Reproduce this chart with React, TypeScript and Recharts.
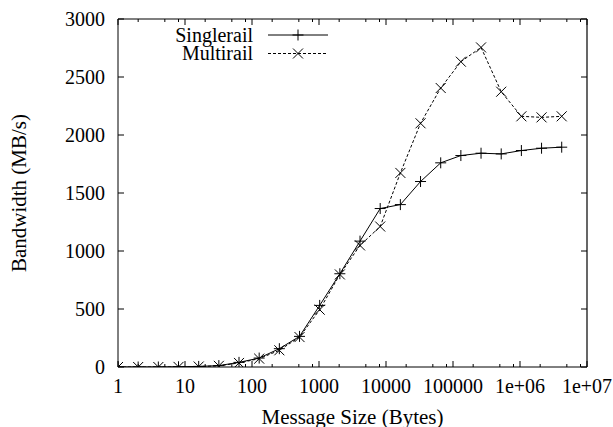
import React from 'react';
import { LineChart, Line, XAxis, YAxis, Legend, ReferenceLine } from 'recharts';

const messageSizes = [1, 2, 4, 8, 16, 32, 64, 128, 256, 512, 1024, 2048, 4096, 8192, 16384, 32768, 65536, 131072, 262144, 524288, 1048576, 2097152, 4194304];
const singlerail = [0, 0, 0, 2, 5, 12, 40, 77, 158, 264, 531, 804, 1085, 1366, 1400, 1599, 1760, 1823, 1843, 1837, 1866, 1886, 1895];
const multirail = [0, 0, 0, 1, 4, 10, 35, 72, 144, 258, 494, 798, 1048, 1211, 1673, 2101, 2405, 2632, 2755, 2373, 2161, 2152, 2161];

const xMajorTicks = [1, 10, 100, 1000, 10000, 100000, 1000000, 10000000];
const xMajorLabels = ['1', '10', '100', '1000', '10000', '100000', '1e+06', '1e+07'];
const xMinorTicks = [2, 5, 8, 20, 50, 80, 200, 500, 800, 2000, 5000, 8000, 20000, 50000, 80000, 200000, 500000, 800000, 2000000, 5000000, 8000000];
const yTicks = [0, 500, 1000, 1500, 2000, 2500, 3000];
const xDomain = [1, 10000000];
const yDomain = [0, 3000];

const seriesNames = ['Singlerail', 'Multirail'];
const xTitle = 'Message Size (Bytes)';
const yTitle = 'Bandwidth (MB/s)';

const data = messageSizes.map((s, i) => ({ size: s, Singlerail: singlerail[i], Multirail: multirail[i] }));
const allXTicks = [...xMajorTicks, ...xMinorTicks].sort((a, b) => a - b);

const FONT = 'Liberation Serif';
const FS = 20;

const W = 613;
const H = 427;
const MARGIN = { top: 19, right: 26, bottom: 0, left: 0 };
const PLOT_TOP = MARGIN.top;
const PLOT_RIGHT = W - MARGIN.right;

const BottomTick = (props: any) => {
  const { x, y, payload } = props;
  const idx = xMajorTicks.indexOf(payload.value);
  const major = idx >= 0;
  const len = major ? 6 : 3;
  return (
    <g>
      <line x1={x} x2={x} y1={y} y2={y - len} stroke="#000" strokeWidth={1} />
      <line x1={x} x2={x} y1={PLOT_TOP} y2={PLOT_TOP + len} stroke="#000" strokeWidth={1} />
      {major && (
        <text x={x} y={y + 26} textAnchor="middle" fontFamily={FONT} fontSize={FS} fill="#000">
          {xMajorLabels[idx]}
        </text>
      )}
    </g>
  );
};

const LeftTick = (props: any) => {
  const { x, y, payload } = props;
  return (
    <g>
      <line x1={x} x2={x + 6} y1={y} y2={y} stroke="#000" strokeWidth={1} />
      <line x1={PLOT_RIGHT} x2={PLOT_RIGHT - 6} y1={y} y2={y} stroke="#000" strokeWidth={1} />
      <text x={x - 13} y={y} dy="0.34em" textAnchor="end" fontFamily={FONT} fontSize={FS} fill="#000">
        {payload.value}
      </text>
    </g>
  );
};

const PlusDot = (props: any) => {
  const { cx, cy, index } = props;
  if (cx == null || cy == null) return <g key={`p${index}`} />;
  const r = 5.5;
  return (
    <g key={`p${index}`}>
      <line x1={cx - r} x2={cx + r} y1={cy} y2={cy} stroke="#000" strokeWidth={1} />
      <line x1={cx} x2={cx} y1={cy - r} y2={cy + r} stroke="#000" strokeWidth={1} />
    </g>
  );
};

const CrossDot = (props: any) => {
  const { cx, cy, index } = props;
  if (cx == null || cy == null) return <g key={`x${index}`} />;
  const r = 5;
  return (
    <g key={`x${index}`}>
      <line x1={cx - r} x2={cx + r} y1={cy - r} y2={cy + r} stroke="#000" strokeWidth={1} />
      <line x1={cx - r} x2={cx + r} y1={cy + r} y2={cy - r} stroke="#000" strokeWidth={1} />
    </g>
  );
};

const LegendContent = () => (
  <svg width={340} height={70} style={{ display: 'block' }}>
    {seriesNames.map((name, i) => {
      const cy = 35 + i * 18.5;
      return (
        <g key={name}>
          <text x={253} y={cy} dy="0.34em" textAnchor="end" fontFamily={FONT} fontSize={FS} fill="#000">
            {name}
          </text>
          <line x1={268} x2={328} y1={cy} y2={cy} stroke="#000" strokeWidth={1} strokeDasharray={i === 1 ? '3 2' : undefined} />
          {i === 0 ? <PlusDot cx={298} cy={cy} index={0} /> : <CrossDot cx={298} cy={cy} index={1} />}
        </g>
      );
    })}
  </svg>
);

const YTitle = (props: any) => {
  const vb = props.viewBox || {};
  const x = (vb.x ?? 0) + 26;
  const y = (vb.y ?? 0) + (vb.height ?? 0) / 2;
  return (
    <text x={x} y={y} transform={`rotate(-90, ${x}, ${y})`} textAnchor="middle" fontFamily={FONT} fontSize={21} fill="#000">
      {yTitle}
    </text>
  );
};

const XTitle = (props: any) => {
  const vb = props.viewBox || {};
  const x = (vb.x ?? 0) + (vb.width ?? 0) / 2;
  const y = (vb.y ?? 0) + 57;
  return (
    <text x={x} y={y} textAnchor="middle" fontFamily={FONT} fontSize={21} fill="#000">
      {xTitle}
    </text>
  );
};

export default function App() {
  return (
    <div style={{ position: 'absolute', left: 0, top: 0, background: '#fff' }}>
      <LineChart width={W} height={H} data={data} margin={MARGIN}>
        <XAxis
          dataKey="size"
          type="number"
          scale="log"
          domain={xDomain}
          allowDataOverflow
          ticks={allXTicks}
          interval={0}
          tickSize={0}
          tickMargin={0}
          tick={<BottomTick />}
          height={60}
          axisLine={{ stroke: '#000', strokeWidth: 1 }}
          label={<XTitle />}
        />
        <YAxis
          type="number"
          domain={yDomain}
          ticks={yTicks}
          interval={0}
          allowDataOverflow
          tickSize={0}
          tickMargin={0}
          tick={<LeftTick />}
          width={118}
          axisLine={{ stroke: '#000', strokeWidth: 1 }}
          label={<YTitle />}
        />
        <ReferenceLine y={yDomain[1]} stroke="#000" strokeWidth={1.2} />
        <ReferenceLine x={xDomain[1]} stroke="#000" strokeWidth={1.2} />
        <Legend
          layout="vertical"
          align="center"
          verticalAlign="middle"
          wrapperStyle={{ position: 'absolute', left: 0, top: 0, width: 340, height: 70 }}
          content={<LegendContent />}
        />
        <Line
          dataKey="Singlerail"
          stroke="#000"
          strokeWidth={1}
          dot={(p: any) => <PlusDot key={`s${p.index}`} {...p} />}
          activeDot={false}
          isAnimationActive={false}
        />
        <Line
          dataKey="Multirail"
          stroke="#000"
          strokeWidth={1}
          strokeDasharray="3 2"
          dot={(p: any) => <CrossDot key={`m${p.index}`} {...p} />}
          activeDot={false}
          isAnimationActive={false}
        />
      </LineChart>
    </div>
  );
}
